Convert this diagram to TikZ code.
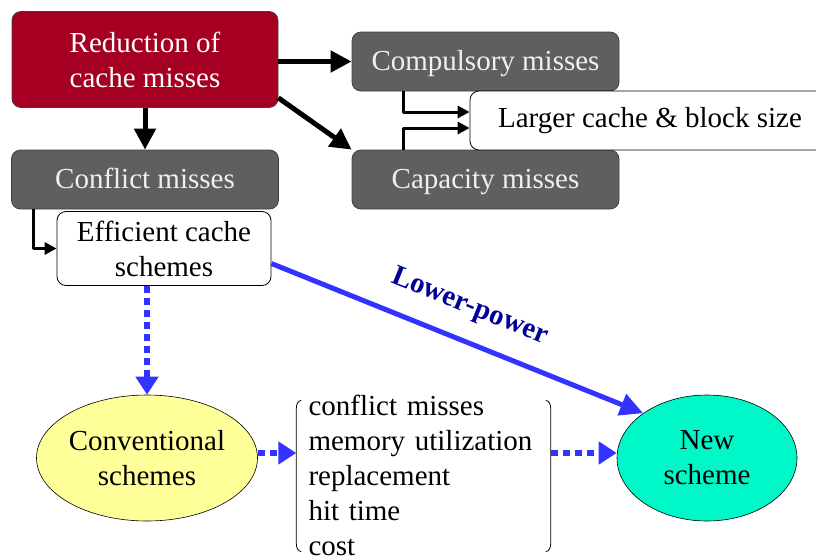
\documentclass[tikz,border=0pt]{standalone}
\usepackage{fontspec}
\setmainfont{Liberation Serif}
\usetikzlibrary{arrows.meta,shapes.geometric}
\definecolor{darkred}{HTML}{A50021}
\definecolor{boxgray}{HTML}{5F5F5F}
\definecolor{lineblue}{HTML}{3333FF}
\definecolor{labelblue}{HTML}{000099}
\definecolor{paleyellow}{HTML}{FFFF99}
\definecolor{aqua}{HTML}{00F8C8}
\begin{document}
\begin{tikzpicture}[x=1pt, y=-1pt, line join=round,
	font=\fontsize{29}{35}\selectfont,
	box/.style={rectangle, rounded corners=9pt, draw=black!75, line width=0.8pt, inner sep=0pt, align=center},
	redbox/.style={box, fill=darkred, text=white, minimum width=266, minimum height=96},
	graybox/.style={box, fill=boxgray, text=white!94!black, minimum width=267, minimum height=59, text height=20pt, text depth=3pt},
	whitebox/.style={box, fill=white, draw=black},
	oval/.style={ellipse, draw=black, line width=0.6pt, inner sep=0pt, align=center, minimum width=180, minimum height=126},
	bigarrow/.style={line width=5pt, -{Triangle[length=21pt,width=21pt]}},
	smallarrow/.style={line width=3pt, -{Triangle[length=12pt,width=12pt]}},
	bluearrow/.style={lineblue, line width=5pt, -{Triangle[length=23pt,width=22pt]}},
	dotarrow/.style={lineblue, line width=5.5pt, dash pattern=on 7pt off 5pt, -{Triangle[length=18pt,width=22pt]}}]
	\clip (0,0) rectangle (816,557);
	
	% boxes on top
	\node[redbox] (red) at (145,59.5) {Reduction of\\cache misses};
	\node[graybox] (comp) at (485.5,61.5) {Compulsory misses};
	\node[graybox] (cap) at (485.5,179.5) {Capacity misses};
	\node[graybox] (conf) at (145,179.5) {Conflict misses};
	\node[whitebox, minimum width=360, minimum height=59] (large) at (650,120.5) {Larger cache \& block size};
	\node[whitebox, minimum width=214, minimum height=74] (eff) at (164,248.5) {Efficient cache\\schemes};
	
	% schemes below
	\node[oval, fill=paleyellow] (conv) at (147,458) {Conventional\\schemes};
	\node[oval, fill=aqua] (new) at (707,458) {New\\scheme};
	\node[text width=230, inner xsep=12pt, inner ysep=0pt, align=left] (crit) at (423.5,475) {conflict misses\\memory utilization\\replacement\\hit time\\cost};
	\draw[line width=0.8pt] ([xshift=5,yshift=-6]crit.north west) to[out=180,in=90] ([yshift=-14]crit.north west) -- ([yshift=12]crit.south west) to[out=-90,in=180] ([xshift=5,yshift=4]crit.south west);
	\draw[line width=0.8pt] ([xshift=-5,yshift=-6]crit.north east) to[out=0,in=90] ([yshift=-14]crit.north east) -- ([yshift=12]crit.south east) to[out=-90,in=0] ([xshift=-5,yshift=4]crit.south east);
	
	% black arrows
	\draw[bigarrow] (red.east |- comp.west) -- (comp.west);
	\draw[bigarrow] ([yshift=10]red.south east) -- (cap.north west);
	\draw[bigarrow] (red.south) -- (conf.north);
	\draw[smallarrow] ([xshift=52]comp.south west) |- ([yshift=8.5]large.west);
	\draw[smallarrow] ([xshift=52]cap.north west) |- ([yshift=-7.5]large.west);
	\draw[smallarrow] ([xshift=22]conf.south west) |- (eff.west);
	
	% blue arrows
	\draw[bluearrow] ([yshift=-15]eff.east) -- (new.north west)
		node[midway, sloped, above=15pt, text=labelblue, font=\fontsize{29}{35}\selectfont\bfseries] {Lower-power};
	\draw[dotarrow] (conv.north |- eff.south) -- (conv.north);
	\draw[dotarrow] ([yshift=5]conv.east) -- ([yshift=5]conv.east -| crit.west);
	\draw[dotarrow] ([yshift=5]new.west -| crit.east) -- ([yshift=5]new.west);
\end{tikzpicture}
\end{document}
